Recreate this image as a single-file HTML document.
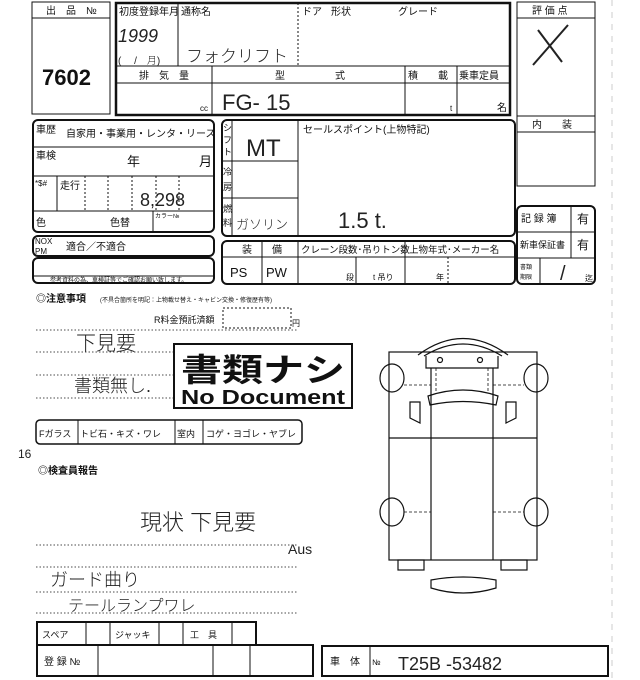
<!DOCTYPE html>
<html><head><meta charset="utf-8"><style>
html,body{margin:0;padding:0;background:#fff;width:640px;height:680px;overflow:hidden}
svg{display:block}
text{font-family:"Liberation Sans","Noto Sans CJK JP",sans-serif;fill:#111}
.h{font-family:"Liberation Sans","Noto Sans CJK JP",sans-serif;fill:#222;font-weight:300}
</style></head><body>
<svg width="640" height="680" viewBox="0 0 640 680" xmlns="http://www.w3.org/2000/svg">
<g fill="none" stroke="#111">
<rect x="32" y="2" width="78" height="112" stroke-width="1"/>
<line x1="32" y1="18" x2="110" y2="18"/>
<rect x="116" y="3" width="394" height="112" stroke-width="2.5"/>
<line x1="178" y1="3" x2="178" y2="66"/>
<line x1="298" y1="3" x2="298" y2="66" stroke-dasharray="2,2"/>
<line x1="116" y1="66" x2="510" y2="66"/>
<line x1="116" y1="83" x2="510" y2="83"/>
<line x1="212" y1="66" x2="212" y2="115"/>
<line x1="405" y1="66" x2="405" y2="115"/>
<line x1="457" y1="66" x2="457" y2="115"/>
<rect x="517" y="2" width="78" height="184"/>
<line x1="517" y1="18" x2="595" y2="18"/>
<line x1="517" y1="116" x2="595" y2="116"/>
<line x1="517" y1="132" x2="595" y2="132"/>
<rect x="33" y="120" width="181" height="112" rx="5" stroke-width="2"/>
<line x1="33" y1="147" x2="214" y2="147"/>
<line x1="33" y1="176" x2="214" y2="176"/>
<line x1="33" y1="211" x2="214" y2="211"/>
<line x1="57" y1="176" x2="57" y2="211"/>
<g stroke-dasharray="2,2"><line x1="85" y1="176" x2="85" y2="211"/><line x1="108" y1="176" x2="108" y2="211"/><line x1="132" y1="176" x2="132" y2="211"/><line x1="156" y1="176" x2="156" y2="211"/><line x1="179" y1="176" x2="179" y2="211"/></g>
<line x1="153" y1="211" x2="153" y2="232"/>
<rect x="222" y="120" width="293" height="116" rx="5" stroke-width="2"/>
<line x1="232" y1="120" x2="232" y2="236"/>
<line x1="298" y1="120" x2="298" y2="236"/>
<line x1="222" y1="161" x2="298" y2="161"/>
<line x1="222" y1="198" x2="298" y2="198"/>
<rect x="33" y="236" width="181" height="20" rx="5" stroke-width="2"/>
<rect x="33" y="258" width="181" height="25" rx="5" stroke-width="2"/>
<line x1="33" y1="276" x2="214" y2="276"/>
<rect x="222" y="241" width="293" height="43" rx="5" stroke-width="2"/>
<line x1="222" y1="257" x2="515" y2="257"/>
<line x1="262" y1="241" x2="262" y2="284"/>
<line x1="298" y1="241" x2="298" y2="284"/>
<line x1="356" y1="257" x2="356" y2="284"/>
<line x1="405" y1="241" x2="405" y2="284"/>
<line x1="448" y1="257" x2="448" y2="284" stroke-dasharray="2,2"/>
<rect x="517" y="206" width="78" height="78" rx="5" stroke-width="2"/>
<line x1="517" y1="232" x2="595" y2="232"/>
<line x1="517" y1="258" x2="595" y2="258"/>
<line x1="571" y1="206" x2="571" y2="258"/>
<line x1="540" y1="258" x2="540" y2="284"/>
<g stroke-dasharray="2,2"><rect x="223" y="308" width="68" height="20"/></g>
<g stroke-dasharray="1.5,2" stroke-width="0.8">
<line x1="36" y1="330" x2="297" y2="330"/><line x1="36" y1="352" x2="173" y2="352"/><line x1="36" y1="375" x2="173" y2="375"/><line x1="36" y1="398" x2="173" y2="398"/>
<line x1="36" y1="545" x2="297" y2="545"/><line x1="36" y1="567" x2="297" y2="567"/><line x1="36" y1="592" x2="297" y2="592"/><line x1="36" y1="613" x2="297" y2="613"/>
</g>
<rect x="174" y="344" width="178" height="64" stroke-width="2"/>
<rect x="36" y="420" width="266" height="24" rx="4" stroke-width="1.5"/>
<line x1="78" y1="420" x2="78" y2="444"/><line x1="175" y1="420" x2="175" y2="444"/><line x1="203" y1="420" x2="203" y2="444"/>
<!-- car -->
<g stroke-width="1.2">
<rect x="389" y="352" width="148" height="208"/>
<line x1="389" y1="438" x2="537" y2="438"/>
<line x1="431" y1="368" x2="431" y2="560"/><line x1="493" y1="368" x2="493" y2="560"/>
<path d="M418 355 Q463 322 508 355"/><path d="M424 356 Q463 332 502 356"/>
<path d="M426 356 L426 368 L498 368 L498 356"/>
<circle cx="440" cy="360" r="2.5"/><circle cx="480" cy="360" r="2.5"/>
<path d="M428 396 Q463 384 498 396 L496 405 Q463 398 430 405 Z"/>
<path d="M410 402 L420 402 L420 423 L410 418 Z"/><path d="M516 402 L506 402 L506 423 L516 418 Z"/>
<ellipse cx="392" cy="378" rx="12" ry="14"/><ellipse cx="536" cy="378" rx="12" ry="14"/>
<ellipse cx="392" cy="512" rx="12" ry="14"/><ellipse cx="536" cy="512" rx="12" ry="14"/>
<rect x="398" y="560" width="26" height="10"/><rect x="501" y="560" width="26" height="10"/>
<path d="M431 588 Q463 598 496 588 L496 580 Q463 574 431 580 Z"/>
</g>
<g stroke-dasharray="3,2" stroke-width="0.8"><line x1="404" y1="385" x2="431" y2="385"/><line x1="493" y1="385" x2="524" y2="385"/><line x1="404" y1="512" x2="431" y2="512"/><line x1="493" y1="512" x2="524" y2="512"/><line x1="436" y1="368" x2="436" y2="392"/><line x1="488" y1="368" x2="488" y2="392"/></g>
<rect x="37" y="622" width="219" height="23" stroke-width="2"/>
<line x1="86" y1="622" x2="86" y2="645"/><line x1="110" y1="622" x2="110" y2="645"/><line x1="159" y1="622" x2="159" y2="645"/><line x1="183" y1="622" x2="183" y2="645"/><line x1="232" y1="622" x2="232" y2="645"/>
<rect x="37" y="645" width="276" height="31" stroke-width="2"/>
<line x1="98" y1="645" x2="98" y2="676"/><line x1="213" y1="645" x2="213" y2="676"/><line x1="250" y1="645" x2="250" y2="676"/>
<rect x="322" y="646" width="286" height="30" stroke-width="2"/>
<line x1="370" y1="646" x2="370" y2="676"/>
<line x1="612" y1="0" x2="612" y2="680" stroke="#ccc" stroke-dasharray="6,6"/>
</g>
<g font-size="10">
<text x="46" y="14">出　品　№</text>
<text x="42" y="85" font-size="22" font-weight="bold">7602</text>
<text x="119" y="15">初度登録年月</text><text x="181" y="15">通称名</text>
<text x="302" y="15">ドア</text><text x="331" y="15">形状</text><text x="398" y="15">グレード</text>
<text x="139" y="79">排　気　量</text><text x="275" y="79">型</text><text x="335" y="79">式</text>
<text x="408" y="79">積　　載</text><text x="459" y="79">乗車定員</text>
<text x="200" y="111" font-size="8">cc</text><text x="450" y="111" font-size="8">t</text><text x="497" y="111">名</text>
<text x="532" y="14">評 価 点</text><text x="532" y="128">内　　装</text>
<text x="36" y="133">車歴</text><text x="66" y="137">自家用・事業用・レンタ・リース</text>
<text x="36" y="159">車検</text><text x="127" y="166" font-size="13">年</text><text x="199" y="166" font-size="13">月</text>
<text x="35" y="186" font-size="8">*$#</text><text x="60" y="189">走行</text>
<text x="36" y="226">色</text><text x="110" y="226">色替</text><text x="155" y="218" font-size="6">カラー№</text>
<text x="35" y="244" font-size="8">NOX</text><text x="35" y="254" font-size="8">PM</text><text x="66" y="250">適合／不適合</text>
<text x="50" y="282" font-size="6">参考資料の為、車検証等でご確認お願い致します。</text>
<text x="223" y="131" font-size="9">シ</text><text x="223" y="143" font-size="9">フ</text><text x="223" y="155" font-size="9">ト</text>
<text x="223" y="175" font-size="9">冷</text><text x="223" y="190" font-size="9">房</text>
<text x="223" y="212" font-size="9">燃</text><text x="223" y="226" font-size="9">料</text>
<text x="303" y="133">セールスポイント(上物特記)</text>
<text x="242" y="253">装　　備</text><text x="301" y="253" font-size="9.5">クレーン段数･吊りトン数</text><text x="409" y="253" font-size="9.5">上物年式･メーカー名</text>
<text x="230" y="277" font-size="13">PS</text><text x="266" y="277" font-size="13">PW</text>
<text x="346" y="280" font-size="8">段</text><text x="373" y="280" font-size="8">t 吊り</text><text x="436" y="280" font-size="8">年</text>
<text x="521" y="222">記 録 簿</text><text x="577" y="223" font-size="12">有</text>
<text x="520" y="248" font-size="9">新車保証書</text><text x="577" y="249" font-size="12">有</text>
<text x="520" y="269" font-size="6">書類</text><text x="520" y="279" font-size="6">期限</text><text x="585" y="281" font-size="8">迄</text>
<text x="36" y="302" font-weight="bold">◎注意事項</text><text x="100" y="302" font-size="6">(不具合箇所を明記：上物載せ替え・キャビン交換・修復歴有等)</text>
<text x="154" y="323" font-size="9">R料金預託済額</text><text x="292" y="326" font-size="8">円</text>
<text x="181" y="381" font-size="32" font-weight="bold" textLength="164" lengthAdjust="spacingAndGlyphs">書類ナシ</text>
<text x="181" y="404" font-size="20" font-weight="bold" textLength="164" lengthAdjust="spacingAndGlyphs">No Document</text>
<text x="39" y="437" font-size="9">Fガラス</text><text x="80" y="437" font-size="9">トビ石・キズ・ワレ</text><text x="177" y="437" font-size="9">室内</text><text x="206" y="437" font-size="9">コゲ・ヨゴレ・ヤブレ</text>
<text x="38" y="474" font-weight="bold">◎検査員報告</text>
<text x="42" y="638" font-size="9">スペア</text><text x="115" y="638" font-size="9">ジャッキ</text><text x="190" y="638" font-size="9">工　具</text>
<text x="44" y="665">登 録 №</text><text x="330" y="665">車　体</text><text x="372" y="665" font-size="8">№</text>
</g>
<g class="h">
<text x="118" y="42" font-size="18" font-style="italic" class="h">1999</text>
<text x="118" y="64" font-size="10" class="h">(　 /　月)</text>
<text x="186" y="62" font-size="17" class="h">フォクリフト</text>
<text x="222" y="110" font-size="22" class="h">FG-  15</text>
<text x="246" y="156" font-size="24" class="h">MT</text>
<text x="140" y="206" font-size="18" class="h">8,298</text>
<text x="236" y="229" font-size="13" class="h">ガソリン</text>
<text x="338" y="228" font-size="22" class="h">1.5 t.</text>
<text x="560" y="280" font-size="20" class="h">/</text>
<text x="76" y="350" font-size="20" class="h">下見要</text>
<text x="74" y="392" font-size="18" class="h">書類無し.</text>
<text x="18" y="458" font-size="12" class="h">16</text>
<text x="140" y="530" font-size="22" class="h">現状 下見要</text>
<text x="288" y="554" font-size="14" class="h">Aus</text>
<text x="50" y="586" font-size="18" class="h">ガード曲り</text>
<text x="68" y="611" font-size="16" class="h">テールランプワレ</text>
<text x="398" y="670" font-size="18" class="h">T25B -53482</text>
</g>
<g stroke="#222" stroke-width="2" fill="none"><line x1="533" y1="65" x2="568" y2="25"/><line x1="538" y1="30" x2="562" y2="62"/></g>
</svg>
</body></html>
